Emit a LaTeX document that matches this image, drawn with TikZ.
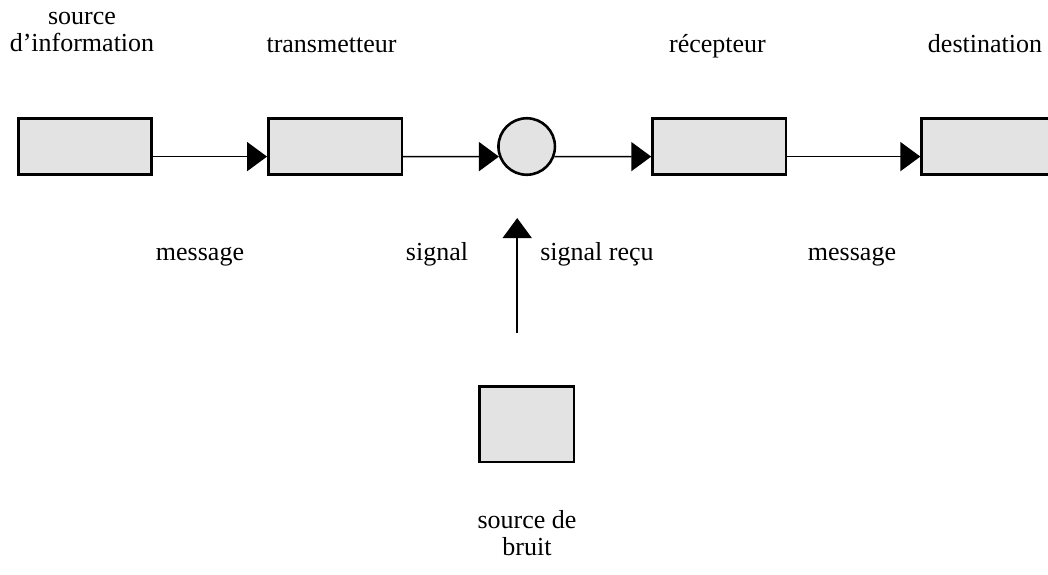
\documentclass[tikz,border=0pt]{standalone}
\usepackage{fontspec}
\setmainfont{Liberation Serif}
\usepackage{tikz}
\usetikzlibrary{shapes.geometric, arrows.meta, positioning}
\definecolor{boxgray}{HTML}{E3E3E3}
\tikzstyle{block} = [rectangle, minimum width=133.5pt, minimum height=56.5pt, inner sep=0pt, draw=black, line width=2.6pt, fill=boxgray]
\tikzstyle{mixer} = [circle, minimum size=56.5pt, inner sep=0pt, draw=black, line width=2.6pt, fill=boxgray]
\tikzstyle{noisebox} = [block, minimum width=94.5pt, minimum height=75.5pt]
\tikzstyle{lbl} = [inner sep=0pt, font=\fontsize{26}{27}\selectfont, align=center]
\tikzstyle{arrow} = [line width=1.7pt, -{Triangle[length=20pt,width=29pt]}]

\begin{document}
\begin{tikzpicture}[x=1pt, y=-1pt]
        \useasboundingbox (0,0) rectangle (1048,574);
        \node (src) [block] at (85,146.5) {};
        \node (tx) [block, right=114pt of src] {};
        \node (mix) [mixer, right=94pt of tx] {};
        \node (rx) [block, right=95pt of mix] {};
        \node (dst) [block, right=133pt of rx] {};
        \node (noise) [noisebox, below=209pt of mix] {};
        \node (srclbl) [lbl, anchor=south] at (82,52) {source\\d’information};
        \node (txlbl) [lbl, anchor=base] at (331.5,52) {transmetteur};
        \node (rxlbl) [lbl, anchor=base] at (717.5,52) {récepteur};
        \node (dstlbl) [lbl, anchor=base] at (985,52) {destination};
        \node (msgin) [lbl, anchor=base] at (200,260) {message};
        \node (sigout) [lbl, anchor=base] at (437,260) {signal};
        \node (sigin) [lbl, anchor=base] at (597,260) {signal reçu};
        \node (msgout) [lbl, anchor=base] at (852,260) {message};
        \node (noiselbl) [lbl, anchor=south] at (527,556) {source de\\bruit};
        \coordinate (nstart) at ([xshift=-9.5pt, yshift=52pt]noise.north);
        \coordinate (nend) at ([xshift=-9.5pt, yshift=-42pt]mix.south);
        \draw [arrow] ([yshift=-10.1pt]src.east) -- ([yshift=-10.1pt]tx.west);
        \draw [arrow] ([yshift=-10.1pt]tx.east) -- (mix.200);
        \draw [arrow] (mix.-20) -- ([yshift=-10.1pt]rx.west);
        \draw [arrow] ([yshift=-10.1pt]rx.east) -- ([yshift=-10.1pt]dst.west);
        \draw [arrow] (nstart) -- (nend);
    \end{tikzpicture}
\end{document}
